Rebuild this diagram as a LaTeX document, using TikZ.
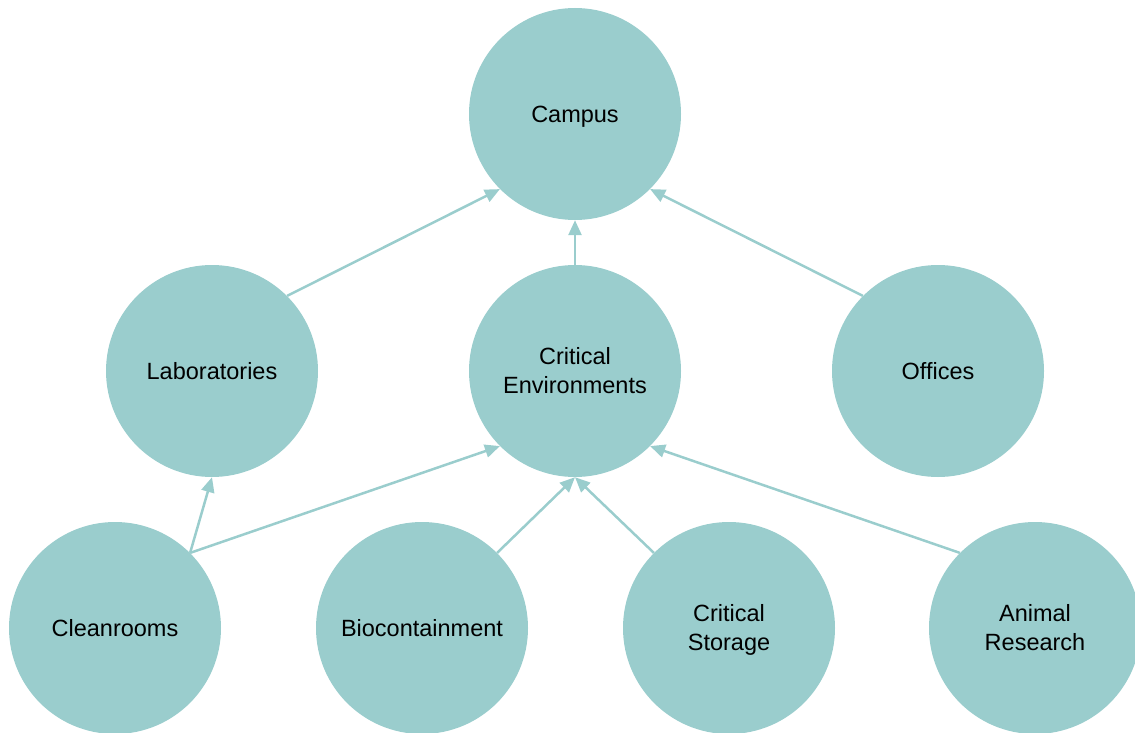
\documentclass[tikz,border=0pt]{standalone}
\usepackage{fontspec}
\setmainfont{Liberation Sans}
\usetikzlibrary{arrows.meta}
\definecolor{teal}{RGB}{154,205,205}
% strut whose height minus depth equals the cap height, so labels centre on their capitals
\newcommand{\capstrut}{\rule[-0.184em]{0pt}{1.084em}}
\begin{document}
\begin{tikzpicture}[x=1pt,y=-1pt,
  unit/.style={circle,fill=teal,draw=none,minimum size=212pt,inner sep=0pt,
    align=center,font=\fontsize{23.5}{29}\selectfont,text=black},
  link/.style={draw=teal,line width=2.5pt,-{Triangle[length=15pt,width=13pt]}}]
\useasboundingbox (0,0) rectangle (1135,733);
\begin{scope}
\clip (0,0) rectangle (1135,733);
\node[unit] (campus) at (575,114) {\capstrut Campus};
\node[unit] (lab) at (212,371) {\capstrut Laboratories};
\node[unit] (ce) at (575,371) {\capstrut Critical\\\capstrut Environments};
\node[unit] (off) at (938,371) {\capstrut Offices};
\node[unit] (clean) at (115,628) {\capstrut Cleanrooms};
\node[unit] (bio) at (422,628) {\capstrut Biocontainment};
\node[unit] (store) at (729,628) {\capstrut Critical\\\capstrut Storage};
\node[unit] (animal) at (1035,628) {\capstrut Animal\\\capstrut Research};
\end{scope}
\draw[link] (lab.north east) -- (campus.south west);
\draw[link] (ce.north) -- (campus.south);
\draw[link] (off.north west) -- (campus.south east);
\draw[link] (clean.north east) -- (lab.south);
\draw[link] (clean.north east) -- (ce.south west);
\draw[link] (bio.north east) -- (ce.south);
\draw[link] (store.north west) -- (ce.south);
\draw[link] (animal.north west) -- (ce.south east);
\end{tikzpicture}
\end{document}
